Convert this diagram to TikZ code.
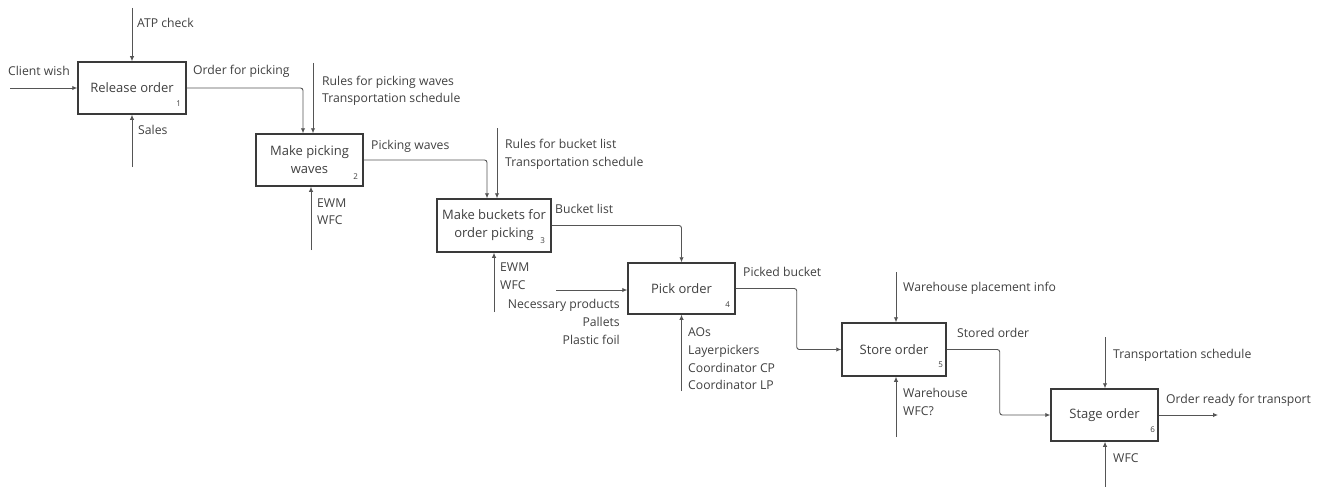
\documentclass[tikz,border=0pt]{standalone}
\usepackage{fontspec}
\setmainfont{Open Sans}
\usetikzlibrary{arrows.meta,calc}
\definecolor{inkline}{HTML}{555555}
\definecolor{inkbox}{HTML}{3A3A3A}
\definecolor{inktext}{HTML}{404040}
\begin{document}
\begin{tikzpicture}[x=1pt,y=-1pt,
  box/.style={draw=inkbox,line width=1.5pt,fill=white,align=center,
    text=inktext,font=\fontsize{13}{18}\selectfont,inner sep=2pt},
  num/.style={font=\fontsize{8}{9}\selectfont,text=inktext,inner sep=0pt},
  lbl/.style={font=\fontsize{12.2}{18}\selectfont,text=inktext,inner sep=0pt,anchor=base west},
  lblr/.style={lbl,anchor=base east},
  arr/.style={draw=inkline,line width=0.9pt,rounded corners=2.5pt,
    -{Latex[length=5pt,width=4.5pt]}}]
\useasboundingbox (0,0) rectangle (1328,487);

% activity boxes
\node[box,minimum width=108pt,minimum height=52pt] (b1) at (132,88) {Release order};
\node[box,minimum width=107pt,minimum height=52pt] (b2) at (309.5,160) {Make picking\\waves};
\node[box,minimum width=114pt,minimum height=53pt] (b3) at (494,225.5) {Make buckets for\\order picking};
\node[box,minimum width=107pt,minimum height=51pt] (b4) at (681.5,288.5) {Pick order};
\node[box,minimum width=104pt,minimum height=53pt] (b5) at (894,349.5) {Store order};
\node[box,minimum width=107pt,minimum height=52pt] (b6) at (1104.5,415) {Stage order};

% box numbers
\node[num] (n1) at ($(b1.south east)+(-8,-11)$) {1};
\node[num] (n2) at ($(b2.south east)+(-8,-10)$) {2};
\node[num] (n3) at ($(b3.south east)+(-9,-12)$) {3};
\node[num] (n4) at ($(b4.south east)+(-8,-10)$) {4};
\node[num] (n5) at ($(b5.south east)+(-6,-12)$) {5};
\node[num] (n6) at ($(b6.south east)+(-6,-12)$) {6};

% free ends of the connectors
\coordinate (cw) at (10,88);
\coordinate (atp) at (132,8);
\coordinate (sales) at (132,167);
\coordinate (c2) at (313,63);
\coordinate (m2) at (311,250);
\coordinate (c3) at (497,128);
\coordinate (m3) at (494,312);
\coordinate (np) at (556,290);
\coordinate (m4) at (681.5,391);
\coordinate (c5) at (896,272);
\coordinate (m5) at (896,437);
\coordinate (c6) at (1105,337);
\coordinate (m6) at (1105,487);
\coordinate (out) at (1218,415);

% connectors
\draw[arr] (cw) -- (b1.west);
\draw[arr] (atp) -- (b1.north);
\draw[arr] (sales) -- (b1.south);
\draw[arr] (b1.east) -| ([xshift=-6.5pt]b2.north);
\draw[arr] (c2) -- (c2 |- b2.north);
\draw[arr] (m2) -- (m2 |- b2.south);
\draw[arr] (b2.east) -| ([xshift=-7pt]b3.north);
\draw[arr] (c3) -- (c3 |- b3.north);
\draw[arr] (m3) -- (m3 |- b3.south);
\draw[arr] (b3.east) -| (b4.north);
\draw[arr] (np) -- (np -| b4.west);
\draw[arr] (m4) -- (m4 |- b4.south);
\draw[arr] (b4.east) -- ++(61,0) |- (b5.west);
\draw[arr] (c5) -- (c5 |- b5.north);
\draw[arr] (m5) -- (m5 |- b5.south);
\draw[arr] (b5.east) -- ++(53,0) |- (b6.west);
\draw[arr] (c6) -- (c6 |- b6.north);
\draw[arr] (m6) -- (m6 |- b6.south);
\draw[arr] (b6.east) -- (out);

% connector labels
\node[lbl] (t1) at (137,27.5) {ATP check};
\node[lbl] (t2) at (8,75.5) {Client wish};
\node[lbl] (t3) at (193,74.5) {Order for picking};
\node[lbl] (t4) at (138,134.5) {Sales};
\node[lbl] (t5) at (322,85.5) {Rules for picking waves};
\node[lbl] (t6) at (322,102.5) {Transportation schedule};
\node[lbl] (t7) at (371,149.5) {Picking waves};
\node[lbl] (t8) at (317,207.5) {EWM};
\node[lbl] (t9) at (317,224.5) {WFC};
\node[lbl] (t10) at (505,148.5) {Rules for bucket list};
\node[lbl] (t11) at (505,166.5) {Transportation schedule};
\node[lbl] (t12) at (555,213.5) {Bucket list};
\node[lbl] (t13) at (500,271.5) {EWM};
\node[lbl] (t14) at (500,289.5) {WFC};
\node[lblr] (t15) at (620,308.5) {Necessary products};
\node[lblr] (t16) at (620,326.5) {Pallets};
\node[lblr] (t17) at (620,344.5) {Plastic foil};
\node[lbl] (t18) at (743,276) {Picked bucket};
\node[lbl] (t19) at (688,336.5) {AOs};
\node[lbl] (t20) at (688,354.5) {Layerpickers};
\node[lbl] (t21) at (688,372.5) {Coordinator CP};
\node[lbl] (t22) at (688,389.5) {Coordinator LP};
\node[lbl] (t23) at (903,291.5) {Warehouse placement info};
\node[lbl] (t24) at (957,337.5) {Stored order};
\node[lbl] (t25) at (903,397.5) {Warehouse};
\node[lbl] (t26) at (903,415.5) {WFC?};
\node[lbl] (t27) at (1113,358.5) {Transportation schedule};
\node[lbl] (t28) at (1166,403.5) {Order ready for transport};
\node[lbl] (t29) at (1113,462.5) {WFC};
\end{tikzpicture}
\end{document}
